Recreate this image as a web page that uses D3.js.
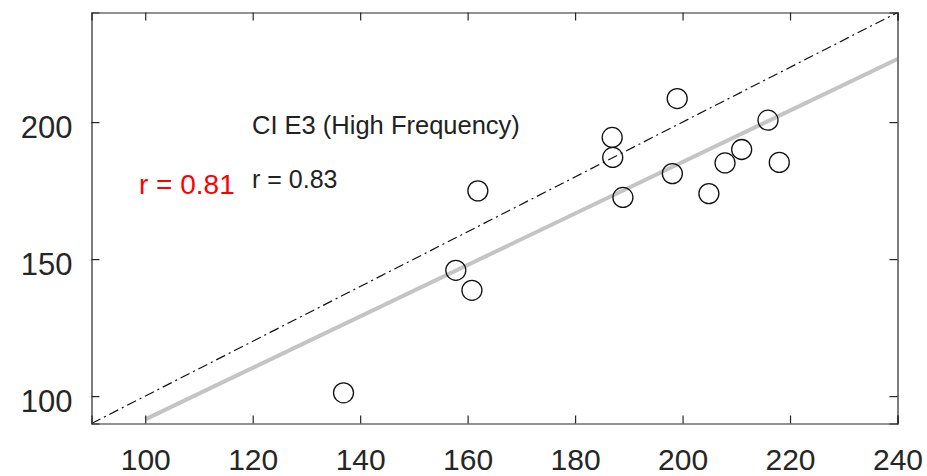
<!DOCTYPE html>
<html>
<head>
<meta charset="utf-8">
<script src="https://cdn.jsdelivr.net/npm/d3@7"></script>
<style>
  body { margin: 0; background: #fff; }
  svg { display: block; font-family: "Liberation Sans", Arial, sans-serif; }
</style>
</head>
<body>
<svg id="chart" width="927" height="476"></svg>
<script>
// measured points (x, y)
var xVals = [136.9, 157.8, 160.8, 161.9, 186.9, 187.0, 188.9, 198.1, 199.0, 204.9, 207.9, 211.0, 215.9, 218.0];
var yVals = [101.2, 145.9, 138.6, 174.9, 194.4, 187.1, 172.5, 181.2, 208.6, 173.9, 185.1, 190.0, 200.7, 185.3];

// fitted line ends and 1:1 line
var fitX = [100, 240];
var fitY = [91.5, 223];
var idX = [90, 240];
var idY = [90, 240];

var xTicks = [100, 120, 140, 160, 180, 200, 220, 240];
var yTicks = [100, 150, 200];

var svg = d3.select("#chart");
var pLeft = 91.5, pRight = 897.5, pTop = 12.5, pBottom = 423.5;
var axisColor = "#262626";

var x = d3.scaleLinear().domain([90, 240]).range([pLeft, pRight]);
var y = d3.scaleLinear().domain([90, 240]).range([pBottom, pTop]);

// clip to plot box
svg.append("defs").append("clipPath").attr("id", "clip")
  .append("rect").attr("x", pLeft).attr("y", pTop)
  .attr("width", pRight - pLeft).attr("height", pBottom - pTop);

var plot = svg.append("g");

var line = d3.line()
  .x(function(d){ return x(d[0]); })
  .y(function(d){ return y(d[1]); });

// regression line
plot.append("path")
  .attr("clip-path", "url(#clip)")
  .datum(d3.zip(fitX, fitY))
  .attr("d", line)
  .attr("fill", "none")
  .attr("stroke", "#c4c4c4")
  .attr("stroke-width", 4);

// 1:1 line
plot.append("path")
  .attr("clip-path", "url(#clip)")
  .datum(d3.zip(idX, idY))
  .attr("d", line)
  .attr("fill", "none")
  .attr("stroke", "#111")
  .attr("stroke-width", 1.2)
  .attr("stroke-dasharray", "10,4,2,4");

// points
plot.selectAll("circle.pt")
  .data(d3.zip(xVals, yVals))
  .enter().append("circle")
  .attr("class", "pt")
  .attr("cx", function(d){ return x(d[0]); })
  .attr("cy", function(d){ return y(d[1]); })
  .attr("r", 10)
  .attr("fill", "none")
  .attr("stroke", "#111")
  .attr("stroke-width", 1.3);

// axes, ticks pointing inward on all four sides
var tl = 8;
var axB = svg.append("g").attr("transform", "translate(0," + pBottom + ")")
  .call(d3.axisBottom(x).tickValues(xTicks).tickSize(-tl).tickFormat(d3.format("d")));
var axT = svg.append("g").attr("transform", "translate(0," + pTop + ")")
  .call(d3.axisTop(x).tickValues(xTicks).tickSize(-tl).tickFormat(""));
var axL = svg.append("g").attr("transform", "translate(" + pLeft + ",0)")
  .call(d3.axisLeft(y).tickValues(yTicks).tickSize(-tl).tickFormat(d3.format("d")));
var axR = svg.append("g").attr("transform", "translate(" + pRight + ",0)")
  .call(d3.axisRight(y).tickValues(yTicks).tickSize(-tl).tickFormat(""));

[axB, axT, axL, axR].forEach(function(a){
  a.select(".domain").attr("stroke", axisColor).attr("stroke-width", 1.2);
  a.selectAll(".tick line").attr("stroke", axisColor).attr("stroke-width", 1.2);
  a.selectAll("text").attr("fill", axisColor).style("font-size", "31px")
    .style("font-family", "'Liberation Sans', Arial, sans-serif");
});
axB.selectAll("text").attr("dy", null).attr("y", 46).style("font-size", "30px");
axL.selectAll("text").attr("dy", null).attr("x", -19).attr("y", 15.5);

// annotations
svg.append("text").attr("x", 252).attr("y", 133.5)
  .style("font-size", "25.5px").attr("fill", "#222")
  .text("CI E3 (High Frequency)");
svg.append("text").attr("x", 252).attr("y", 187.5)
  .style("font-size", "25px").attr("fill", "#222")
  .text("r = 0.83");
svg.append("text").attr("x", 139).attr("y", 194)
  .style("font-size", "28px").attr("fill", "#ff0000")
  .text("r = 0.81");
</script>
</body>
</html>
